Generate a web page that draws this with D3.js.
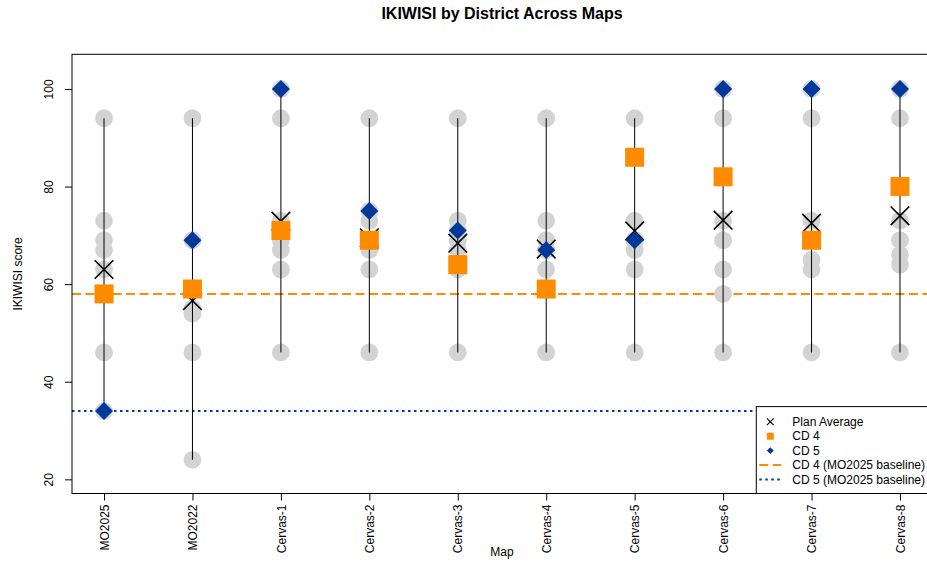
<!DOCTYPE html>
<html>
<head>
<meta charset="utf-8">
<script src="https://cdn.jsdelivr.net/npm/d3@7/dist/d3.min.js"></script>
<style>
  html, body { margin: 0; padding: 0; background: #fff; }
  svg { display: block; font-family: "Liberation Sans", Arial, Helvetica, sans-serif; }
</style>
</head>
<body>
<svg id="chart" width="927" height="563"></svg>
<script>
// Maps compared on the x axis
const maps = ["MO2025", "MO2022", "Cervas-1", "Cervas-2", "Cervas-3",
              "Cervas-4", "Cervas-5", "Cervas-6", "Cervas-7", "Cervas-8"];

// IKIWISI scores for districts 4 and 5 on each map
const cd4 = [58, 59, 71, 69, 64, 59, 86, 82, 69, 80];
const cd5 = [34, 69, 100, 75, 71, 67, 69, 100, 100, 100];

// Scores of the remaining six districts on each map
const otherDistricts = [
  [94, 73, 69, 67, 63, 46],
  [94, 55, 54, 54, 46, 24],
  [94, 73, 69, 67, 63, 46],
  [94, 73, 69, 67, 63, 46],
  [94, 73, 69, 67, 63, 46],
  [94, 73, 69, 67, 63, 46],
  [94, 73, 69, 67, 63, 46],
  [94, 73, 69, 63, 58, 46],
  [94, 73, 69, 65, 63, 46],
  [94, 73, 69, 66, 64, 46]
];

// Average score across all districts of each plan
const planAverage = [63.0, 56.6, 72.9, 69.5, 68.4, 67.2, 70.9, 73.1, 72.5, 74.0];

const yTicks = [20, 40, 60, 80, 100];

const legendLabels = ["Plan Average", "CD 4", "CD 5", "CD 4 (MO2025 baseline)", "CD 5 (MO2025 baseline)"];

// ---- layout ----
const plot = { left: 72, right: 932, top: 54.3, bottom: 493.5 };
const ORANGE = "#ff8c00", BLUE = "#00399a", GREY = "#d3d3d3";

const svg = d3.select("#chart");

const x = d3.scaleLinear().domain([0.638, 10.362]).range([plot.left, plot.right]);
const y = d3.scaleLinear().domain([17.1, 107.1]).range([plot.bottom, plot.top]);

svg.append("defs").append("clipPath").attr("id", "plotclip")
  .append("rect").attr("x", plot.left).attr("y", plot.top)
  .attr("width", plot.right - plot.left).attr("height", plot.bottom - plot.top);

// per-map records
const rows = maps.map((m, i) => {
  const all = otherDistricts[i].concat([cd4[i], cd5[i]]);
  return { map: m, idx: i + 1, all, min: d3.min(all), max: d3.max(all),
           avg: planAverage[i], cd4: cd4[i], cd5: cd5[i] };
});

const g = svg.append("g").attr("clip-path", "url(#plotclip)");

// baseline reference lines from the MO2025 scores
g.append("line")
  .attr("x1", plot.left).attr("x2", plot.right)
  .attr("y1", y(cd4[0])).attr("y2", y(cd4[0]))
  .attr("stroke", ORANGE).attr("stroke-width", 2).attr("stroke-dasharray", "9,4.5");
g.append("line")
  .attr("x1", plot.left).attr("x2", plot.right)
  .attr("y1", y(cd5[0])).attr("y2", y(cd5[0]))
  .attr("stroke", BLUE).attr("stroke-width", 2).attr("stroke-dasharray", "2.5,3.5");

// grey points for every district
rows.forEach(r => {
  g.selectAll(null).data(r.all).enter().append("circle")
    .attr("cx", x(r.idx)).attr("cy", d => y(d)).attr("r", 8.9)
    .attr("fill", GREY);
});

// range segment from lowest to highest district
g.selectAll(".seg").data(rows).enter().append("line")
  .attr("class", "seg")
  .attr("x1", d => x(d.idx)).attr("x2", d => x(d.idx))
  .attr("y1", d => y(d.min)).attr("y2", d => y(d.max))
  .attr("stroke", "#000").attr("stroke-width", 1);

// plan average crosses
const cross = (s) => `M${-s},${-s}L${s},${s}M${-s},${s}L${s},${-s}`;
g.selectAll(".avg").data(rows).enter().append("path")
  .attr("class", "avg")
  .attr("transform", d => `translate(${x(d.idx)},${y(d.avg)})`)
  .attr("d", cross(9.3))
  .attr("stroke", "#000").attr("stroke-width", 1.6).attr("fill", "none");

// CD 4 squares
g.selectAll(".cd4").data(rows).enter().append("rect")
  .attr("class", "cd4")
  .attr("x", d => x(d.idx) - 9.5).attr("y", d => y(d.cd4) - 9.5)
  .attr("width", 19).attr("height", 19).attr("fill", ORANGE);

// CD 5 diamonds
const diamond = (s) => `M0,${-s}L${s},0L0,${s}L${-s},0Z`;
g.selectAll(".cd5").data(rows).enter().append("path")
  .attr("class", "cd5")
  .attr("transform", d => `translate(${x(d.idx)},${y(d.cd5)})`)
  .attr("d", diamond(9)).attr("fill", BLUE);

// ---- axes ----
const yAxis = d3.axisLeft(y).tickValues(yTicks).tickSize(7).tickFormat(d3.format("d"));
const yg = svg.append("g").attr("transform", `translate(${plot.left},0)`).call(yAxis);
yg.select(".domain").remove();
yg.selectAll("line").attr("stroke", "#000");
// tick group is already placed at y(d); labels run bottom-to-top beside the ticks
yg.selectAll("text")
  .attr("x", 0).attr("y", 0).attr("dy", 0).attr("text-anchor", "middle")
  .attr("transform", `translate(${53 - plot.left},0) rotate(-90)`)
  .attr("font-size", 12).attr("fill", "#000");

const xAxis = d3.axisBottom(x).tickValues(rows.map(r => r.idx)).tickSize(7)
  .tickFormat(i => maps[i - 1]);
const xg = svg.append("g").attr("transform", `translate(0,${plot.bottom})`).call(xAxis);
xg.select(".domain").remove();
xg.selectAll("line").attr("stroke", "#000");
xg.selectAll("text")
  .attr("x", 0).attr("y", 0).attr("dy", "0.35em")
  .attr("text-anchor", "end")
  .attr("transform", "translate(0,11) rotate(-90)")
  .attr("font-size", 12).attr("fill", "#000");

// plot frame
svg.append("rect")
  .attr("x", plot.left).attr("y", plot.top)
  .attr("width", plot.right - plot.left).attr("height", plot.bottom - plot.top)
  .attr("fill", "none").attr("stroke", "#000").attr("stroke-width", 1);

// ---- titles ----
svg.append("text").attr("x", (plot.left + plot.right) / 2).attr("y", 19)
  .attr("text-anchor", "middle").attr("font-weight", "bold").attr("font-size", 16)
  .text("IKIWISI by District Across Maps");
svg.append("text").attr("x", (plot.left + plot.right) / 2).attr("y", 556)
  .attr("text-anchor", "middle").attr("font-size", 12).text("Map");
svg.append("text")
  .attr("transform", `translate(22,${(plot.top + plot.bottom) / 2}) rotate(-90)`)
  .attr("text-anchor", "middle").attr("font-size", 12).text("IKIWISI score");

// ---- legend ----
const lg = svg.append("g");
const lx = 756.3, ly = 406.6, lw = plot.right - 756.3, lh = plot.bottom - 406.6;
lg.append("rect").attr("x", lx).attr("y", ly).attr("width", lw).attr("height", lh)
  .attr("fill", "#fff").attr("stroke", "#000").attr("stroke-width", 1);
const rowY = i => ly + 15.2 + i * 14.4;
const symX = lx + 14;
lg.append("path").attr("transform", `translate(${symX},${rowY(0)})`).attr("d", cross(3.4))
  .attr("stroke", "#000").attr("stroke-width", 1.1).attr("fill", "none");
lg.append("rect").attr("x", symX - 3.5).attr("y", rowY(1) - 3.5).attr("width", 7).attr("height", 7)
  .attr("fill", ORANGE);
lg.append("path").attr("transform", `translate(${symX},${rowY(2)})`).attr("d", diamond(3.4))
  .attr("fill", BLUE);
lg.append("line").attr("x1", lx + 3).attr("x2", lx + 25).attr("y1", rowY(3)).attr("y2", rowY(3))
  .attr("stroke", ORANGE).attr("stroke-width", 2).attr("stroke-dasharray", "9,4.5");
lg.append("line").attr("x1", lx + 3).attr("x2", lx + 25).attr("y1", rowY(4)).attr("y2", rowY(4))
  .attr("stroke", BLUE).attr("stroke-width", 2).attr("stroke-dasharray", "2.5,3.5");
lg.selectAll(".lt").data(legendLabels).enter().append("text")
  .attr("x", lx + 36).attr("y", (d, i) => rowY(i)).attr("dy", "0.35em")
  .attr("font-size", 12).text(d => d);
</script>
</body>
</html>
